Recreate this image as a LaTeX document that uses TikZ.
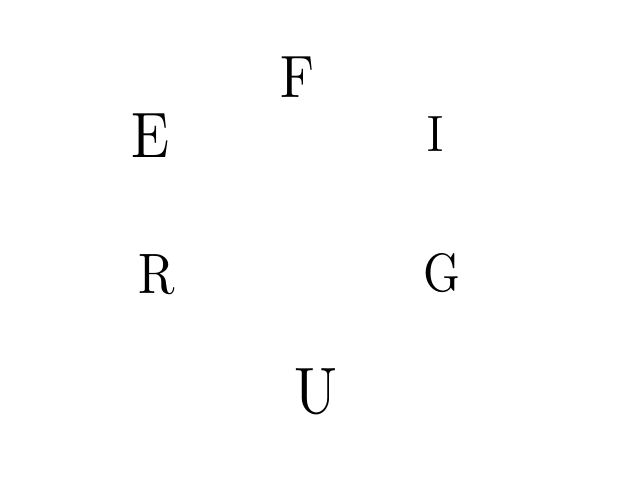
\documentclass[tikz,border=0pt]{standalone}
\usepackage{fontspec}
\setmainfont{lmroman10-regular}[Extension=.otf, FakeStretch=0.87]
\usepackage{tikz}

\begin{document}
\begin{tikzpicture}[
			x=0.025cm, y=-0.025cm,
			letter/.style={inner sep=0pt, anchor=base, font=\fontsize{#1pt}{#1pt}\selectfont}
		]
		\useasboundingbox (0,0) rectangle (640,480);
		\node[letter=42.5] (f) at (297,97)  {F};
		\node[letter=45.7] (e) at (151,157) {E};
		\node[letter=36.3] (i) at (436,151) {I};
		\node[letter=40.5] (r) at (157,293) {R};
		\node[letter=38.4] (g) at (442,291) {G};
		\node[letter=46.7] (u) at (316,413) {U};
		\end{tikzpicture}
\end{document}
